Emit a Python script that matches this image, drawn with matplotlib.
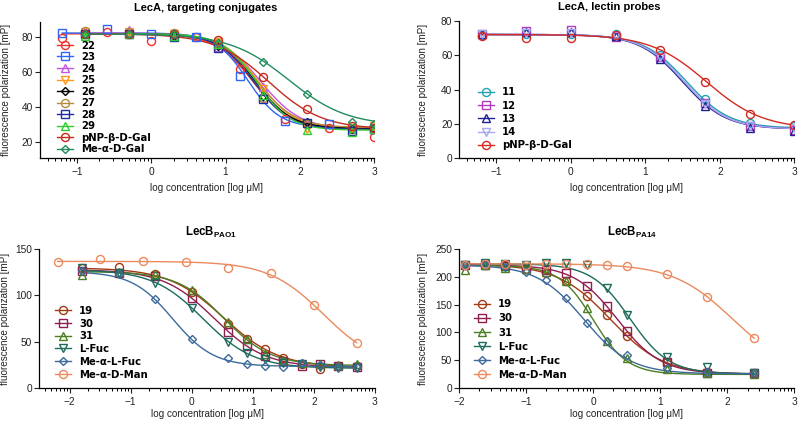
import numpy as np
import matplotlib
matplotlib.use('Agg')
import matplotlib.pyplot as plt
from matplotlib.lines import Line2D
from matplotlib.ticker import FixedLocator

plt.rcParams['font.family'] = ['Liberation Sans', 'DejaVu Sans']
plt.rcParams['mathtext.fontset'] = 'custom'
plt.rcParams['mathtext.rm'] = 'Liberation Sans'
plt.rcParams['mathtext.bf'] = 'Liberation Sans:bold'
plt.rcParams['mathtext.default'] = 'bf'

# ---------------- Panel 1: LecA, targeting conjugates ----------------
p1_labels = ['22', '23', '24', '25', '26', '27', '28', '29', 'pNP-β-D-Gal', 'Me-α-D-Gal']
p1_xa = [-1.2, -0.6, 0.0, 0.6, 1.2, 1.8, 2.4, 3.0]
p1_xb = [-0.9, -0.3, 0.3, 0.9, 1.5, 2.1, 2.7, 3.0]
p1_22 = [79.5, 83, 78, 80, 62, 33, 27.5, 22.5]
p1_23 = [82.5, 85, 82, 80, 58, 32, 30, 27]
p1_24 = [83.5, 84.5, 82, 74.5, 51.5, 31, 27, 27.5]
p1_25 = [83, 83, 82, 77.5, 50, 27, 27.5, 29]
p1_26 = [82, 82, 81, 75, 46, 31, 27, 28]
p1_27 = [83.5, 83, 82.5, 77, 45, 30, 28, 29]
p1_28 = [82, 82, 80, 74, 44.5, 30.5, 26, 27]
p1_29 = [80.5, 82, 81, 76, 47, 26.5, 25.5, 27]
p1_pnp = [82, 82, 82, 78.5, 57, 38.5, 29, 28]
p1_me = [82, 82, 82, 77, 65.5, 47.5, 31, 30]
# fitted 4PL parameters: top, bottom, logIC50, hill
p1_top = [82, 82.5, 82.5, 82, 82, 82, 82, 82, 82, 82]
p1_bottom = [27, 28, 27, 27.5, 27.5, 28, 27, 26.5, 27, 29]
p1_logic50 = [1.37, 1.30, 1.47, 1.44, 1.40, 1.42, 1.38, 1.42, 1.58, 1.85]
p1_hill = [1.7, 2.0, 1.6, 1.8, 1.8, 1.7, 1.8, 1.9, 1.2, 1.1]
p1_colors = ['#F2302A', '#2F66F5', '#C356DE', '#FF9A1E', '#000000', '#B88A3C',
             '#1F2C9C', '#2ECC2E', '#C42A1E', '#228C5C']
p1_markers = ['o', 's', '^', 'v', 'D', 'o', 's', '^', 'o', 'D']

# ---------------- Panel 2: LecA, lectin probes ----------------
p2_labels = ['11', '12', '13', '14', 'pNP-β-D-Gal']
p2_x = [-1.2, -0.6, 0.0, 0.6, 1.2, 1.8, 2.4, 3.0]
p2_11 = [71.5, 72, 72.5, 72, 60, 34.5, 20.5, 19]
p2_12 = [72.5, 74, 74.5, 70.5, 59, 32, 18.5, 16.5]
p2_13 = [72, 73.5, 73.5, 71, 57.5, 30.5, 17.5, 16]
p2_14 = [72, 73, 73, 71, 59, 31.5, 19, 17.5]
p2_pnp = [71, 70, 70, 71.5, 63, 44.5, 25.5, 19.5]
p2_top = [72, 72, 72, 72, 72]
p2_bottom = [17.5, 17, 17, 17, 17]
p2_logic50 = [1.55, 1.52, 1.50, 1.52, 1.82]
p2_hill = [1.5, 1.5, 1.5, 1.5, 1.15]
p2_colors = ['#22A3B3', '#B03AB8', '#1E2290', '#A8A8F2', '#D42A22']
p2_markers = ['o', 's', '^', 'v', 'o']

# ---------------- Panel 3: LecB PAO1 ----------------
p3_labels = ['19', '30', '31', 'L-Fuc', 'Me-α-L-Fuc', 'Me-α-D-Man']
p3_x = [-1.8, -1.2, -0.6, 0.0, 0.6, 0.9, 1.2, 1.5, 1.8, 2.1, 2.4, 2.7]
p3_xman = [-2.2, -1.5, -0.8, -0.1, 0.6, 1.3, 2.0, 2.7]
p3_19 = [129.4, 130.8, 122.9, 104, 68.7, 52.4, 41.6, 32.5, 26, 20, 23.5, 23.5]
p3_30 = [126.5, 124.3, 120.7, 96.9, 60.7, 45.2, 34, 29, 23.5, 25.3, 23, 22.8]
p3_31 = [122, 125.8, 122.9, 106, 71.6, 52.4, 36.9, 30, 27, 26, 24.6, 26]
p3_lfuc = [130, 124.7, 113.8, 86.7, 49.9, 38, 30.7, 27, 25.3, 22.4, 21.7, 21]
p3_melfuc = [127, 123.6, 95.8, 52.4, 31.8, 26, 23.5, 22.8, 27, 24.6, 22.4, 22.4]
p3_medman = [136.2, 139.8, 137.7, 135.9, 129.7, 124.6, 89.6, 48.8]
p3_top = [130, 128, 126, 128, 126, 137]
p3_bottom = [22, 22, 24, 21, 23, 22]
p3_logic50 = [0.52, 0.37, 0.53, 0.19, -0.31, 2.16]
p3_hill = [0.96, 1.04, 1.13, 1.05, 1.3, 0.96]

# ---------------- Panel 4: LecB PA14 ----------------
p4_labels = ['19', '30', '31', 'L-Fuc', 'Me-α-L-Fuc', 'Me-α-D-Man']
p4_x = [-1.91, -1.61, -1.31, -1.0, -0.7, -0.4, -0.1, 0.2, 0.5, 1.1, 1.7, 2.4]
p4_xman = [-1.91, -1.61, -1.31, -1.0, -0.7, -0.4, -0.1, 0.2, 0.5, 1.1, 1.7, 2.4]
p4_19 = [221.6, 221.6, 221, 213.8, 207.8, 193.3, 165.6, 131.3, 93.4, 47, 28.9, 26]
p4_30 = [222, 222, 220, 215, 212, 207.8, 183.7, 147.6, 103, 47, 27, 27]
p4_31 = [213, 222, 217, 214, 210, 193.3, 143.4, 84.4, 53, 33.2, 27, 24]
p4_lfuc = [222, 225, 224, 222, 225, 225, 221.6, 179.5, 131.3, 56, 36.8, 26]
p4_melfuc = [222, 222, 218, 209.6, 194.6, 162.6, 116.3, 84.4, 59, 35, 28.9, 26]
p4_medman = [222, 223, 223, 222, 223, 223, 223.4, 222.2, 219.8, 204.8, 164.4, 89.2]
p4_top = [223, 222, 221, 224, 222, 224]
p4_bottom = [24, 25, 24, 25, 25, 25]
p4_logic50 = [0.256, 0.36, 0.0, 0.55, -0.14, 2.075]
p4_hill = [1.1, 1.34, 1.7, 1.5, 1.25, 0.98]

lecB_colors = ['#A33A14', '#8E2050', '#4C7F22', '#1C6B5C', '#3D6A9C', '#EB8A5E']
lecB_markers = ['o', 's', '^', 'v', 'D', 'o']

LEG_FS = 7.3


def logistic(x, top, bottom, c, h):
    return bottom + (top - bottom) / (1.0 + 10.0 ** ((x - c) * h))


def draw_panel(ax, labels, xs, ys, tops, bottoms, cs, hs, colors, markers):
    handles = []
    for lab, x, y, t, b, c, h, col, m in zip(labels, xs, ys, tops, bottoms, cs, hs, colors, markers):
        ms = 4.3 if m == 'D' else 5.8
        xx = np.linspace(min(x), max(x), 300)
        ax.plot(xx, logistic(xx, t, b, c, h), color=col, lw=1.0, zorder=2)
        ax.plot(x, y, linestyle='none', marker=m, ms=ms, mfc='none', mec=col, mew=1.0, zorder=3)
        handles.append(Line2D([], [], color=col, lw=1.0, marker=m, ms=ms, mfc='none', mec=col, mew=1.0))
    return handles


def style_axes(ax, xlim, ylim, yticks, xmajor):
    ax.set_xlim(*xlim)
    ax.set_ylim(*ylim)
    for s in ['top', 'right']:
        ax.spines[s].set_visible(False)
    for s in ['left', 'bottom']:
        ax.spines[s].set_linewidth(0.9)
    ax.set_yticks(yticks)
    ax.set_xticks(xmajor)
    minors = []
    for d in range(-3, 4):
        for k in range(2, 10):
            v = d + np.log10(k)
            if xlim[0] <= v <= xlim[1]:
                minors.append(v)
    ax.xaxis.set_minor_locator(FixedLocator(minors))
    ax.tick_params(axis='both', which='major', direction='out', length=3.5, width=0.8,
                   labelsize=7.3, colors='#222222')
    ax.tick_params(axis='x', which='major', pad=3.0)
    ax.tick_params(axis='y', which='major', pad=1.5)
    ax.tick_params(axis='x', which='minor', direction='out', length=2.2, width=0.7)
    ax.set_xlabel('log concentration [log μM]', fontsize=7.1, color='#222222')
    ax.set_ylabel('fluorescence polarization [mP]', fontsize=7.1, color='#222222')


def add_legend(ax, handles, labels, anchor, spacing):
    ax.legend(handles, labels, loc='upper left', bbox_to_anchor=anchor, frameon=False,
              prop={'family': 'DejaVu Sans', 'size': LEG_FS, 'weight': 'bold'},
              handlelength=1.58, handletextpad=0.79,
              labelspacing=spacing, borderpad=0, borderaxespad=0)


fig = plt.figure(figsize=(8.0, 4.22), dpi=100)

# Panel 1
ax1 = fig.add_axes([0.050, 0.6256, 0.4175, 0.323])
h1 = draw_panel(ax1, p1_labels,
                [p1_xa, p1_xa, p1_xb, p1_xb, p1_xb, p1_xb, p1_xb, p1_xb, p1_xb, p1_xb],
                [p1_22, p1_23, p1_24, p1_25, p1_26, p1_27, p1_28, p1_29, p1_pnp, p1_me],
                p1_top, p1_bottom, p1_logic50, p1_hill, p1_colors, p1_markers)
style_axes(ax1, (-1.5, 3.0), (10.5, 89), [20, 40, 60, 80], [-1, 0, 1, 2, 3])
ax1.set_title('LecA, targeting conjugates', fontsize=8, fontweight='bold', pad=8, x=0.497)
add_legend(ax1, h1, p1_labels, (0.051, 0.862), 0.15)

# Panel 2
ax2 = fig.add_axes([0.574, 0.6249, 0.419, 0.326])
h2 = draw_panel(ax2, p2_labels, [p2_x] * 5, [p2_11, p2_12, p2_13, p2_14, p2_pnp],
                p2_top, p2_bottom, p2_logic50, p2_hill, p2_colors, p2_markers)
style_axes(ax2, (-1.5, 3.0), (0, 80), [0, 20, 40, 60, 80], [-1, 0, 1, 2, 3])
ax2.set_title('LecA, lectin probes', fontsize=8, fontweight='bold', pad=8, x=0.447)
add_legend(ax2, h2, p2_labels, (0.056, 0.515), 0.32)

# Panel 3
ax3 = fig.add_axes([0.049, 0.0813, 0.4196, 0.3277])
h3 = draw_panel(ax3, p3_labels, [p3_x, p3_x, p3_x, p3_x, p3_x, p3_xman],
                [p3_19, p3_30, p3_31, p3_lfuc, p3_melfuc, p3_medman],
                p3_top, p3_bottom, p3_logic50, p3_hill, lecB_colors, lecB_markers)
style_axes(ax3, (-2.5, 3.0), (0, 150), [0, 50, 100, 150], [-2, -1, 0, 1, 2, 3])
ax3.set_title('LecB$_{PAO1}$', fontsize=8.3, fontweight='bold', pad=10, x=0.511)
add_legend(ax3, h3, p3_labels, (0.047, 0.592), 0.27)

# Panel 4
ax4 = fig.add_axes([0.574, 0.0813, 0.419, 0.3277])
h4 = draw_panel(ax4, p4_labels, [p4_x, p4_x, p4_x, p4_x, p4_x, p4_xman],
                [p4_19, p4_30, p4_31, p4_lfuc, p4_melfuc, p4_medman],
                p4_top, p4_bottom, p4_logic50, p4_hill, lecB_colors, lecB_markers)
style_axes(ax4, (-2.0, 3.0), (0, 250), [0, 50, 100, 150, 200, 250], [-2, -1, 0, 1, 2, 3])
ax4.set_title('LecB$_{PA14}$', fontsize=8.3, fontweight='bold', pad=10, x=0.515)
add_legend(ax4, h4, p4_labels, (0.044, 0.640), 0.41)

for ax, yl, xl in [(ax1, -0.088, -0.183), (ax2, -0.094, -0.183), (ax3, -0.086, -0.154), (ax4, -0.092, -0.154)]:
    ax.yaxis.set_label_coords(yl, 0.5)
    ax.xaxis.set_label_coords(0.5, xl)

fig.savefig('out.png', dpi=100)
